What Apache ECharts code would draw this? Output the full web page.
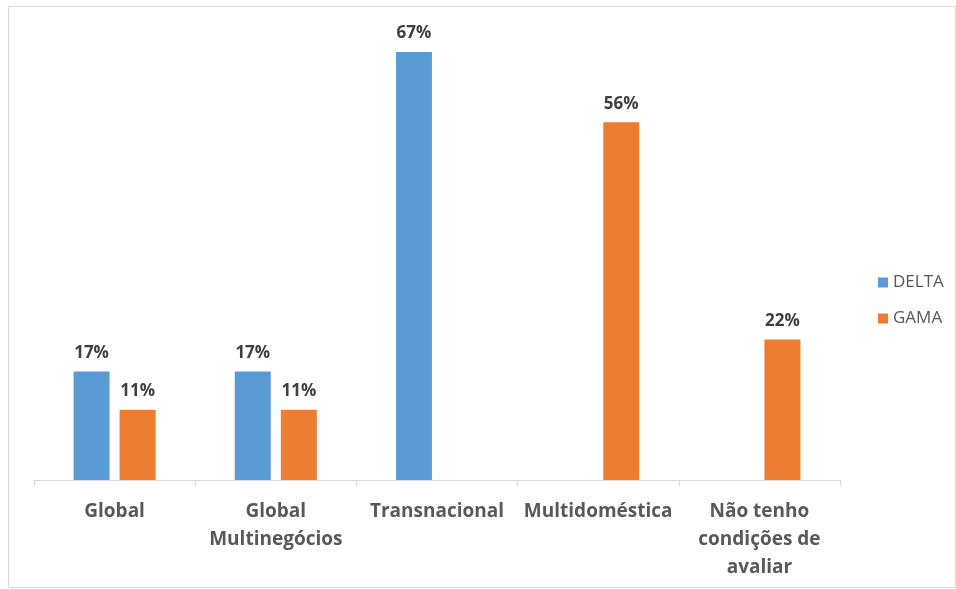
<!DOCTYPE html>
<html>
<head>
<meta charset="utf-8">
<script src="https://cdn.jsdelivr.net/npm/echarts@6/dist/echarts.min.js"></script>
<style>
html,body{margin:0;padding:0;background:#fff;}
#main{width:956px;height:589px;}
</style>
</head>
<body>
<div id="main"></div>
<script>
// categorias e valores (%)
var categorias = ['Global', 'Global\nMultinegócios', 'Transnacional', 'Multidoméstica', 'Não tenho\ncondições de\navaliar'];
var delta = [17, 17, 67, null, null];
var gama = [11, 11, null, 56, 22];

var myChart = echarts.init(document.getElementById('main'));

var rotulo = {
    show: true,
    position: 'top',
    distance: 10,
    formatter: '{c}%',
    color: '#404040',
    fontFamily: 'Open Sans',
    fontWeight: 'bold',
    fontSize: 17
};

var option = {
    animation: false,
    backgroundColor: '#fff',
    graphic: [{
        type: 'rect',
        shape: {x: 8.5, y: 6.5, width: 947, height: 581},
        style: {fill: 'none', stroke: '#d9d9d9', lineWidth: 1},
        silent: true
    }],
    legend: {
        orient: 'vertical',
        top: 269,
        left: 873,
        itemWidth: 10,
        itemHeight: 10,
        itemGap: 19,
        icon: 'rect',
        textStyle: {color: '#595959', fontFamily: 'Open Sans', fontSize: 17},
        data: ['DELTA', 'GAMA']
    },
    grid: {left: 34, right: 116, top: 52, bottom: 109},
    xAxis: {
        type: 'category',
        data: categorias,
        axisLine: {lineStyle: {color: '#d9d9d9'}},
        axisTick: {show: true, length: 6, lineStyle: {color: '#d9d9d9'}},
        axisLabel: {
            interval: 0,
            margin: 18,
            color: '#595959',
            fontFamily: 'Open Sans',
            fontWeight: 'bold',
            fontSize: 19,
            lineHeight: 28
        }
    },
    yAxis: {
        type: 'value',
        min: 0,
        max: 67,
        show: false,
        splitLine: {show: false}
    },
    series: [{
        name: 'DELTA',
        type: 'bar',
        data: delta,
        barWidth: 36,
        barGap: '28%',
        itemStyle: {color: '#5b9bd5'},
        label: rotulo
    }, {
        name: 'GAMA',
        type: 'bar',
        data: gama,
        barWidth: 36,
        itemStyle: {color: '#ed7d31'},
        label: rotulo
    }]
};

myChart.setOption(option);
</script>
</body>
</html>
